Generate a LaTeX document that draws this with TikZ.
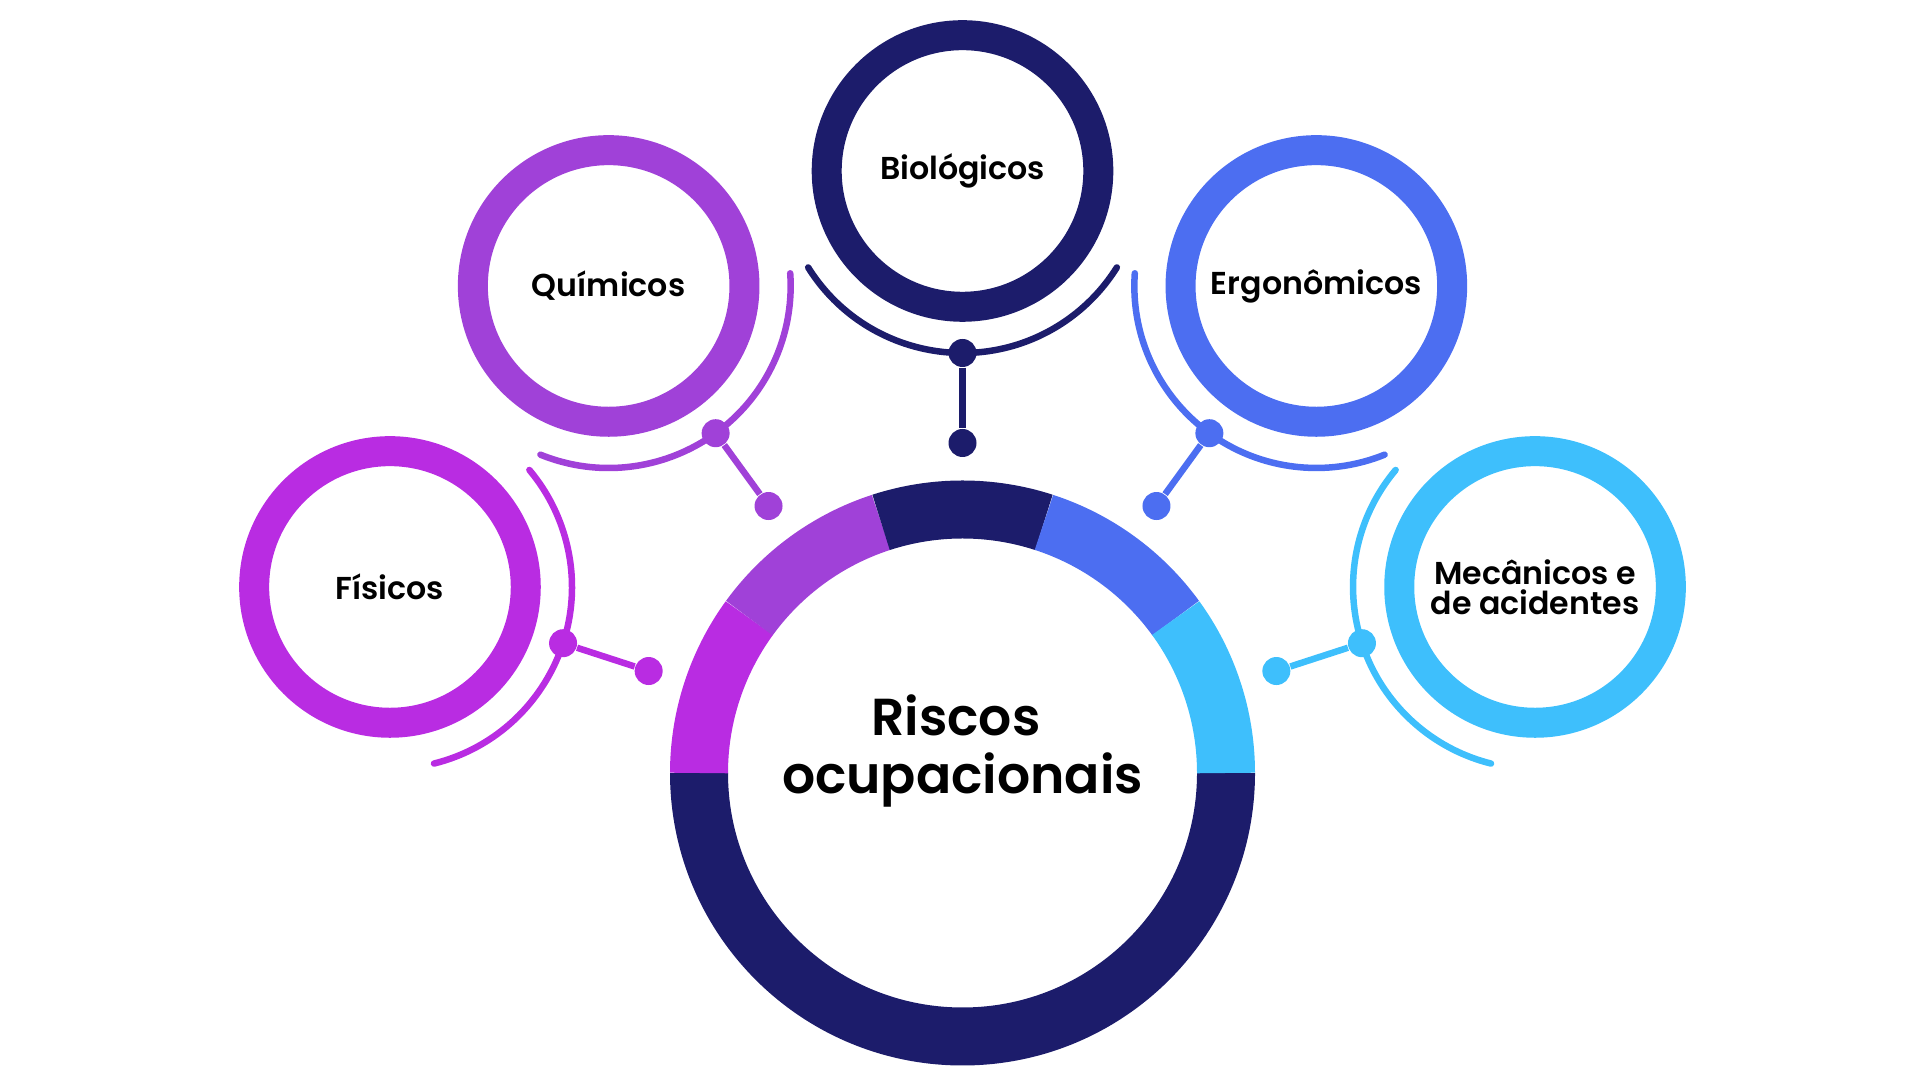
\documentclass[tikz,border=0pt]{standalone}
\usepackage{fontspec}
\setmainfont{Poppins}[BoldFont={Poppins SemiBold}]
\usetikzlibrary{positioning, calc}

\definecolor{navy}{HTML}{1C1C6B}
\definecolor{fisicos}{HTML}{B92CE2}
\definecolor{quimicos}{HTML}{A041D8}
\definecolor{ergo}{HTML}{4C6EF1}
\definecolor{mecanicos}{HTML}{3EBFFC}

\tikzset{
  ring/.style={circle, draw=#1, line width=0.30cm, minimum size=2.716cm,
    inner sep=0pt, align=center, font=\fontsize{9}{8.6}\selectfont\bfseries},
  halo/.style={draw=#1, line width=0.065cm, line cap=round},
  dot/.style={circle, fill=#1, inner sep=0pt, minimum size=0.28cm},
  link/.style={draw=#1, line width=0.065cm},
  band/.style={draw=#1, line width=0.58cm},
}

\begin{document}
\begin{tikzpicture}
    \useasboundingbox (0,0) rectangle (19.2,10.8);
    \coordinate (C) at (9.625,3.07);

    % Central ring, split into coloured bands
    \draw[band=navy] ($(C)+(180:2.635)$) arc (180:360:2.635);
    \draw[band=fisicos] ($(C)+(144:2.635)$) arc (144:180:2.635);
    \draw[band=quimicos] ($(C)+(108:2.635)$) arc (108:144:2.635);
    \draw[band=navy] ($(C)+(72:2.635)$) arc (72:108:2.635);
    \draw[band=ergo] ($(C)+(36:2.635)$) arc (36:72:2.635);
    \draw[band=mecanicos] ($(C)+(0:2.635)$) arc (0:36:2.635);
    \node[align=center, font=\fontsize{14.8}{16.6}\selectfont\bfseries] (riscos)
      at ($(C)+(0,0.22)$) {Riscos\kern0.25em\\ocupacionais};

    % Fisicos
    \node[ring=fisicos] (fis) at ($(C)+(162:6.02)$) {Físicos};
    \draw[halo=fisicos] ($(fis)+(-76:1.82)$) arc (-76:40:1.82);
    \node[dot=fisicos] (fis_a) at ($(C)+(162:4.20)$) {};
    \node[dot=fisicos] (fis_b) at ($(C)+(162:3.30)$) {};
    \draw[link=fisicos] (fis_a) -- (fis_b);

    % Quimicos
    \node[ring=quimicos] (qui) at ($(C)+(126:6.02)$) {Químicos};
    \draw[halo=quimicos] ($(qui)+(248:1.82)$) arc (248:364:1.82);
    \node[dot=quimicos] (qui_a) at ($(C)+(126:4.20)$) {};
    \node[dot=quimicos] (qui_b) at ($(C)+(126:3.30)$) {};
    \draw[link=quimicos] (qui_a) -- (qui_b);

    % Biologicos
    \node[ring=navy] (bio) at ($(C)+(90:6.02)$) {Biológicos};
    \draw[halo=navy] ($(bio)+(212:1.82)$) arc (212:328:1.82);
    \node[dot=navy] (bio_a) at ($(C)+(90:4.20)$) {};
    \node[dot=navy] (bio_b) at ($(C)+(90:3.30)$) {};
    \draw[link=navy] (bio_a) -- (bio_b);

    % Ergonomicos
    \node[ring=ergo] (erg) at ($(C)+(54:6.02)$) {Ergonômicos};
    \draw[halo=ergo] ($(erg)+(176:1.82)$) arc (176:292:1.82);
    \node[dot=ergo] (erg_a) at ($(C)+(54:4.20)$) {};
    \node[dot=ergo] (erg_b) at ($(C)+(54:3.30)$) {};
    \draw[link=ergo] (erg_a) -- (erg_b);

    % Mecanicos e de acidentes
    \node[ring=mecanicos] (mec) at ($(C)+(18:6.02)$) {Mecânicos e\\de acidentes};
    \draw[halo=mecanicos] ($(mec)+(140:1.82)$) arc (140:256:1.82);
    \node[dot=mecanicos] (mec_a) at ($(C)+(18:4.20)$) {};
    \node[dot=mecanicos] (mec_b) at ($(C)+(18:3.30)$) {};
    \draw[link=mecanicos] (mec_a) -- (mec_b);

\end{tikzpicture}
\end{document}
